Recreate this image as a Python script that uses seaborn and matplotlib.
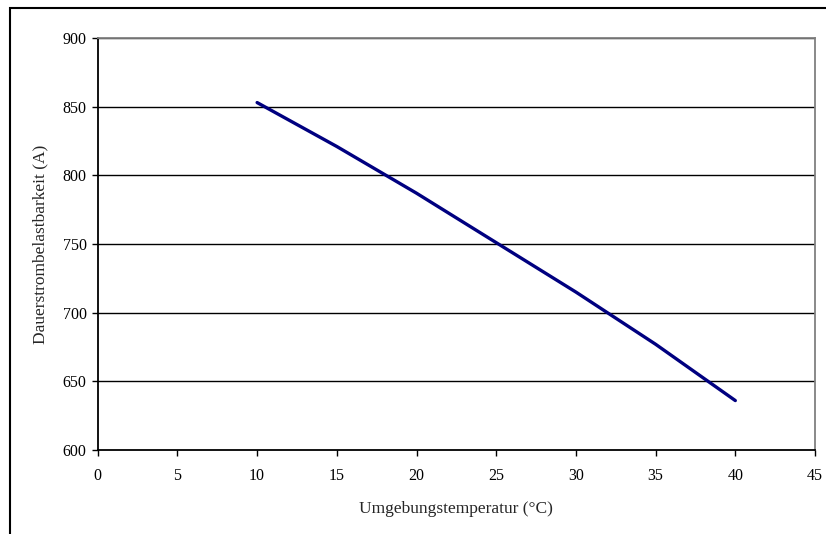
import matplotlib
matplotlib.use("Agg")
import matplotlib.pyplot as plt
import seaborn as sns
import pandas as pd
from matplotlib.patches import Rectangle

# Werte
temperatur = [10, 15, 20, 25, 30, 35, 40]
strom = [853, 821, 787, 751, 715, 677, 636]

df = pd.DataFrame({"temp": temperatur, "strom": strom})

sns.set_style("white")
plt.rcParams["font.family"] = ["Liberation Serif", "DejaVu Serif"]
plt.rcParams["font.size"] = 11

fig = plt.figure(figsize=(8.26, 5.34), dpi=100)
ax = fig.add_axes([0.1183, 0.1573, 0.8684, 0.7715])

# Horizontale Gitterlinien
for y in [650, 700, 750, 800, 850, 900]:
    ax.axhline(y, color="black", linewidth=1, zorder=1)

sns.lineplot(data=df, x="temp", y="strom", color="#000080", linewidth=2.4,
             ax=ax, zorder=3)

ax.set_xlim(0, 45)
ax.set_ylim(600, 900)
ax.set_xticks(range(0, 46, 5))
ax.set_yticks(range(600, 901, 50))
ax.tick_params(axis="both", direction="out", length=4, width=1,
               colors="black", labelsize=11.5, bottom=True, left=True)
ax.tick_params(axis="x", pad=9)
ax.tick_params(axis="y", pad=4)

for s in ["left", "bottom"]:
    ax.spines[s].set_color("black")
    ax.spines[s].set_linewidth(1.3)
for s in ["top", "right"]:
    ax.spines[s].set_color("#808080")
    ax.spines[s].set_linewidth(1.3)

ax.set_xlabel("Umgebungstemperatur (°C)", fontsize=12.5, labelpad=12)
ax.set_ylabel("Dauerstrombelastbarkeit (A)", fontsize=12.5, labelpad=10)

# Rahmen um das Diagramm
fig.patches.append(Rectangle((9.5 / 826, -0.2), 1.2, 1.2 - 7.5 / 534,
                             transform=fig.transFigure, fill=False,
                             edgecolor="black", linewidth=1.5))

plt.savefig("out.png", dpi=100)
